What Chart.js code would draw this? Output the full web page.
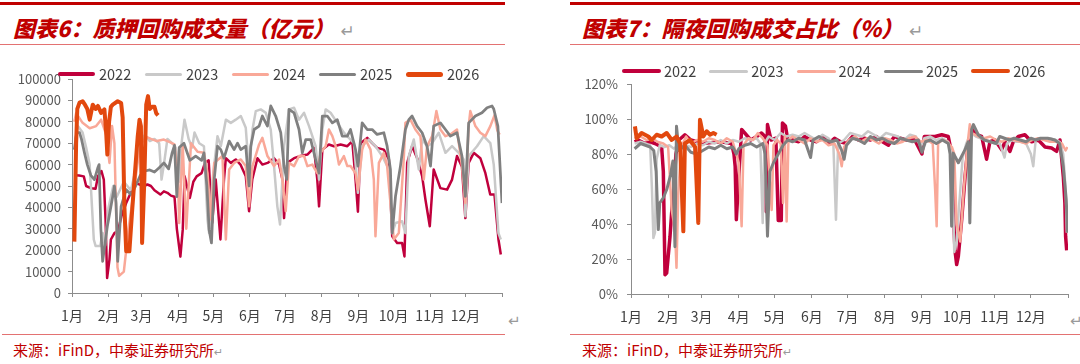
<!DOCTYPE html>
<html>
<head>
<meta charset="utf-8">
<script src="https://cdn.jsdelivr.net/npm/chart.js"></script>
<style>
	body{margin:0;width:1080px;height:364px;background:#fff;position:relative;overflow:hidden;font-family:"Noto Sans CJK SC",sans-serif;}
	.bar{position:absolute;top:2px;height:3px;background:#C00000;}
	.thin{position:absolute;height:1px;background:#E37272;}
	.title{position:absolute;top:16px;font-size:22px;line-height:22px;font-weight:900;font-style:italic;color:#C00000;white-space:nowrap;}
	.ret{color:#9a9a9a;font-style:normal;font-weight:normal;font-family:"DejaVu Sans",sans-serif;}
	.title .ret{font-size:17px;margin-left:6px;}
	.src{position:absolute;top:342px;font-size:15px;line-height:15px;color:#C00000;white-space:nowrap;}
	.src .ret{font-size:11px;}
	.corner{position:absolute;top:312px;font-size:15px;}
	canvas{position:absolute;top:0;}
	.lg{position:absolute;height:18px;}
	.lg i{position:absolute;border-radius:3px;}
	.lg span{position:absolute;top:0;font-size:14.5px;line-height:18px;color:#404040;}
</style>
</head>
<body>
	<div class="bar" style="left:0;width:505px"></div>
	<div class="bar" style="left:570px;width:510px"></div>
	<div class="title" style="left:13px">图表6：质押回购成交量（亿元）<span class="ret">↵</span></div>
	<div class="title" style="left:582px">图表7：隔夜回购成交占比（%）<span class="ret">↵</span></div>
	<div class="thin" style="left:0;width:505px;top:44px"></div>
	<div class="thin" style="left:570px;width:510px;top:44px"></div>
	<div class="thin" style="left:2px;width:503px;top:334px"></div>
	<div class="thin" style="left:570px;width:510px;top:334px"></div>
	<div class="src" style="left:13px">来源：iFinD，中泰证券研究所<span class="ret">↵</span></div>
	<div class="src" style="left:582px">来源：iFinD，中泰证券研究所<span class="ret">↵</span></div>
	<div class="ret corner" style="left:508px">↵</div>
	<div class="ret corner" style="left:1070px">↵</div>

	<canvas id="volChart" width="512" height="333" style="left:0"></canvas>
	<canvas id="onChart" width="520" height="334" style="left:560px"></canvas>
	<div id="volLegend"></div>
	<div id="onLegend"></div>

<script>
const seriesNames = ['2022', '2023', '2024', '2025', '2026'];
const seriesColors = ['#C0003C', '#C9C9C9', '#F9A898', '#808080', '#E2480E'];
const monthStarts = [0, 31, 59, 90, 120, 151, 181, 212, 243, 273, 304, 334];
const monthLabels = ['1月', '2月', '3月', '4月', '5月', '6月', '7月', '8月', '9月', '10月', '11月', '12月'];

// 质押回购成交量（亿元）  [年内第几天, 数值]
const vol2022 = [[3,55000],[6,54900],[10,54500],[12,50000],[16,49000],[20,48700],[22,54600],[25,57000],[27,53000],[28.5,34000],[29.8,7000],[31.8,15600],[33,25000],[36,28000],[39,29000],[42,36000],[46,42000],[50,47000],[54,51500],[58,50500],[61,50000],[64,50700],[67,50000],[70,48000],[75,46000],[78,47500],[81,46800],[84,45500],[87,45000],[89,30000],[92,17000],[94,29600],[95.6,54500],[100,44400],[103,52000],[105.8,54500],[110,56000],[113,61000],[116,62000],[119,32700],[122,53000],[126,25000],[129,53000],[130.6,63000],[134.8,60800],[139,62400],[143,60000],[147.5,54600],[150.3,38200],[153,53000],[157.4,63000],[161.6,60000],[166,60800],[171.5,63000],[175.8,60000],[178.6,53000],[180,35000],[182.8,60800],[188.5,63000],[194,64000],[199.8,64700],[205.4,67800],[208.2,53000],[209.7,40500],[212.5,67000],[218,69400],[222.4,68600],[228,69400],[233.7,68600],[237.9,71000],[240.7,53000],[242.7,38000],[245,70000],[250.6,72500],[254.8,70000],[259,67800],[264.7,67000],[269,62400],[271.8,26500],[276,23400],[280.2,23400],[282.2,17100],[284.5,60800],[288.7,68600],[293,63000],[297.2,54600],[300,43700],[303.7,31200],[307,57700],[312.7,49000],[318.4,48300],[322.6,53000],[326.8,64000],[331,59000],[333.9,35000],[336.7,60800],[341,65500],[346.6,63000],[350.9,56000],[355,46000],[358.6,46000],[362,25000],[364,18000]];
const vol2023 = [[3,72000],[5,78000],[9,75000],[12,68000],[15,60000],[17,40000],[18.5,25000],[20,22000],[24,22000],[26,28000],[28,22000],[31,40000],[35,50000],[38,45000],[44,52000],[50,48000],[55,60000],[58,70000],[62,74000],[66,71000],[70,72000],[74,70000],[76,53000],[78,60000],[81,72000],[85,70000],[88,68000],[91,52000],[93,70000],[95.5,81000],[99,72000],[102,68000],[104,75000],[108,70000],[112,68600],[115,34300],[116.4,28000],[119.3,53000],[123.5,73300],[126.3,68600],[130.6,81000],[134.8,79500],[139,81000],[143.3,82700],[147.5,77200],[150.3,56000],[153.2,76400],[156,85000],[160.2,85800],[164.5,84200],[168.7,76400],[171.5,59300],[174.3,40500],[176.6,32000],[180,68600],[184.2,85800],[188.5,86600],[192.7,81000],[197,84200],[201.2,78000],[204,73300],[206.8,68600],[209.7,53000],[212.5,76400],[215.3,85800],[219.5,84200],[225.2,79500],[230.8,74900],[233.6,73300],[239.3,70000],[242.7,46800],[246.3,68600],[252,71700],[257.6,68600],[263.3,64000],[269,57700],[271.8,28000],[274.6,32700],[280.2,33500],[283,28000],[285.9,64000],[290.1,71700],[294.4,57700],[297.2,71700],[301.4,68600],[305.7,70000],[311.3,74900],[317,65500],[322.6,68600],[328.3,65500],[332.5,62400],[333.9,35900],[336.7,64000],[343.8,68600],[349.5,73300],[355.1,70000],[358,60000],[362,28000],[364,25000]];
const vol2024 = [[2,80000],[3.5,84000],[9,79500],[15,77000],[20.5,78000],[24.7,81000],[29,74000],[31.8,60800],[34,78000],[36,70000],[38.6,12000],[40,8000],[44,10000],[48,30000],[53,50000],[56,62000],[59,70000],[63,73000],[67,72000],[72,71000],[78,71700],[83,70500],[87,69400],[90,53000],[91,32700],[94,68600],[97,30000],[101,70000],[106.6,66000],[112,65500],[115,56000],[118,34300],[120.7,60800],[127.7,64000],[130.6,25000],[133.4,57700],[137.6,60800],[143.3,62400],[147.5,59300],[150.3,40500],[153.2,59300],[158.8,69400],[161.6,72500],[165.9,64000],[171.5,59300],[175.8,62400],[178.6,53000],[181.4,38200],[184.2,60800],[188.5,59300],[192.7,64000],[197,64000],[199.8,59300],[204,60000],[208.2,56000],[211,65500],[215.3,68600],[218.1,76400],[221,73300],[223.8,68600],[226.6,60000],[230.8,64000],[233.7,59300],[236.4,59300],[240.7,56000],[242.7,48300],[246.3,67000],[249.2,71700],[253.4,67000],[256.2,53000],[257.6,26500],[260.5,60800],[264.7,65500],[267.5,59300],[270.3,42100],[273.2,25000],[277.4,28000],[281.6,62400],[283,79500],[287.3,81000],[291.5,76400],[295.8,73300],[298.6,53000],[301.4,68600],[305.7,73300],[309.3,85000],[312.7,76400],[317,73300],[321.2,74100],[326.8,76400],[331,59300],[333.9,42100],[336.7,78000],[338.1,85000],[342.4,78000],[346.6,74900],[350.9,73300],[355.1,78000],[358.6,83000],[361,76000],[363,74000]];
const vol2025 = [[2,67000],[4,75000],[6.4,74900],[8,72000],[10.6,65500],[13,60000],[16,55000],[19,53000],[21.9,58500],[23,60000],[24.5,30000],[26,14800],[30,31200],[34.6,45200],[36,50000],[37.4,42100],[38.8,14800],[41.7,40500],[46,48300],[50,46000],[54,50000],[58,55000],[62,57000],[66,57500],[70,56500],[74,58500],[78,60800],[82,58000],[85,65500],[87,69000],[89,45000],[91,68000],[95,70000],[100,62000],[105,64000],[110,62000],[112,65500],[114.5,50000],[116.4,29600],[118.4,23400],[120.7,53000],[123.5,68600],[126.3,67000],[129,63000],[133.4,71000],[137.6,67000],[140.5,70000],[143.3,67000],[147.5,68600],[150.3,50000],[151.7,68600],[154.6,76400],[158.8,78000],[161.6,82700],[165.9,78000],[168.7,87400],[172.9,82700],[177.2,74900],[180,59300],[182.3,53000],[184.2,85800],[188.5,84200],[192.7,76400],[195.5,65500],[198.4,71700],[202.6,71700],[206.8,62400],[209.7,56000],[212.5,82700],[216.7,82700],[221,79500],[225.2,81000],[229.4,73300],[233.7,73300],[236.4,76400],[240.7,67000],[242.7,59300],[246.3,79500],[250.6,76400],[254.8,76400],[259,74100],[264.7,74900],[267.5,68600],[270.3,57700],[271.8,28000],[274.6,45200],[278.8,59300],[283,76400],[285.9,81000],[288.7,82700],[292.9,78000],[297.2,74900],[301.4,68600],[304.3,59300],[307,78000],[312.7,79500],[317,76400],[321.2,73300],[326.8,74900],[331,64000],[333.9,45200],[336.7,79500],[342.4,82700],[348,84200],[352.3,86600],[356.5,87400],[358,86000],[361.5,78000],[365,42000]];
const vol2026 = [[2,24000],[3.5,70000],[4.5,86000],[6.4,89000],[9,89600],[11,88000],[13,86000],[15,81000],[17.6,88000],[20,86000],[22,87400],[24.7,84200],[27.5,85800],[29,75000],[30,64700],[31.5,80000],[33,87000],[34.6,88000],[38.8,89600],[41.7,88800],[43,82000],[44.5,40000],[46,19500],[48.7,19500],[51,38000],[53,53000],[55.8,73300],[57.3,81000],[58.5,78000],[59.5,23400],[61.4,53000],[63,88000],[64.5,92000],[66,86000],[68,87000],[70,87000],[71.5,84000],[73,83000]];

// 隔夜回购成交占比（%）
const on2022 = [[3,87],[6,88],[11.7,86],[16,87],[20,86],[25.6,84],[27,70],[28.4,11],[29.8,12],[32.6,33],[34.5,52],[36,62],[37.5,80],[40,88],[45,91],[50,88],[55,87],[60,86],[67,86.5],[75,87],[84,86],[86,80],[87,73],[88,42.5],[90,67],[92.4,94],[95,92],[100,88],[105,90],[109,92],[112,90],[113,47],[114,96.8],[117,88],[121,89],[123,42],[125.5,42],[126.5,97.7],[129,96],[131,88],[135,88],[140,87],[145,90],[150,88],[155,87],[160,90],[165,86],[170,89],[175,87],[180,86],[185,90],[190,88],[195,89],[200,88],[205,90],[210,87],[215,85],[220,90],[225,89],[230,88],[237,88],[243,80],[245,90],[254,90],[259.5,91],[265,90],[267.8,80.5],[269.2,48],[270.6,25],[272,16.8],[273.4,21.5],[276.2,42.5],[279,67],[281.7,86],[284.5,94],[288.7,91],[292.9,90],[297,77],[299.8,87],[304,88],[309.6,82.5],[312.4,87],[316.5,81.5],[319.3,87],[323.5,90],[329,91],[334.6,87],[340.2,88],[345.8,84],[351.3,83.4],[355.5,81.5],[358.3,88],[361.1,67],[362.4,52],[363,33],[363.9,25]];
const on2023 = [[3,86],[8,87],[12,86],[16,85],[17.5,60],[18.7,32],[20,35],[21.4,77],[24,85],[28,84],[32,85],[36,83],[40,86],[45,85],[50,84],[55,86],[60,85],[65,87],[70,86],[75,88],[80,86],[85,88],[90,87],[95,89],[100,88],[105,89],[108,86],[110,40.6],[111.5,86],[115,90],[120,88],[125,92],[130,90],[135,91],[140,90],[145,92],[150,90],[155,88],[160,91],[165,89],[169,86],[171.2,42.5],[173,86],[178,88],[183,92],[188,91],[193,90],[198,93],[203,91],[208,89],[213,92],[218,91],[223,90],[228,88],[233,91],[238,90],[242,84],[245,89],[250,90],[255,88],[260,89],[265,87],[268,80],[270,24],[272,30],[274,50],[277,78],[280,86],[284,92],[288,90],[292,89],[296,88],[300,87],[304,86],[308,86],[312,78],[314,86],[318,88],[322,87],[326,87],[330,86],[334,80],[336,73],[338,88],[342,89],[346,88],[350,89],[355,88],[358,87],[361,80],[363,60],[364,35]];
const on2024 = [[3,89],[8,90],[13,88],[18,89],[22,87],[27,86],[31,84],[34,48],[36.7,37],[38,15],[39.5,58],[42,84],[46,90],[50,86],[55,88],[60,87],[65,89],[70,88],[75,86],[80,89],[85,87],[88,80],[90,75],[92.4,38.7],[94,85],[98,89],[102,88],[106,92],[110,89],[114,85],[117.5,48],[119,85],[122,88],[125,86],[127,52],[128.5,90],[130,41.5],[131.5,88],[135,90],[140,88],[145,86],[150,89],[155,87],[160,88],[165,85],[170,86],[174,80],[176,73],[178,84],[182,88],[187,90],[192,87],[197,89],[202,88],[207,86],[212,89],[217,88],[222,86],[227,87],[232,89],[237,90],[242,87],[247,88],[252,86],[254,60],[255.3,38.7],[256.5,86],[260,88],[264,87],[268,84],[270,80],[272,40],[275,30],[278,60],[281,85],[283,97],[285,92],[290,90],[295,89],[300,90],[305,88],[310,87],[315,89],[320,88],[325,87],[330,86],[335,88],[340,89],[345,88],[350,87],[355,87],[360,86],[363,82],[364.5,84]];
const on2025 = [[3,83],[8,86],[12,85],[16,84],[19,82],[21,70],[22.8,36.8],[24,52],[27,55],[30,60],[33,68],[35,76],[36.7,27],[38,95.8],[40,82],[45,85],[50,81],[55,80],[60,82],[65,84],[70,83],[75,85],[80,83],[85,84],[88,80],[90,83],[95,85],[100,86],[105,84],[110,86],[112,80],[114,33],[116,70],[119,75],[123,80],[127,85],[131,88],[135,87],[140,89],[145,88],[148,82],[150,78],[152,88],[157,90],[162,88],[167,87],[172,88],[176,82],[178,77],[180,85],[185,89],[190,88],[195,86],[200,90],[205,88],[210,89],[215,87],[220,86],[225,89],[230,88],[235,87],[240,88],[243,81],[246,87],[250,88],[255,86],[260,88],[265,86],[266.5,80],[267.8,38.7],[269.2,80.5],[273.4,75],[279,82.5],[281.7,87],[283,40.6],[284.5,94],[286,96.8],[290,91],[295,88],[300,87],[305,86],[308,90],[312,89],[316,88],[320,89],[325,88],[330,87],[334,89],[338,88],[342,89],[348,89],[354,88],[358,86],[361,73],[363.5,54],[364.7,35]];
const on2026 = [[3.3,95.8],[4.7,89],[8.9,92],[14.5,90],[17.3,88],[21.4,91],[25.6,90],[29.8,92],[34,88],[38,90],[41,86],[43.7,35.8],[45,86],[49.3,88],[53.5,84],[56.2,40.6],[57.6,99.6],[60.4,90],[63.2,93],[66,91],[68.8,92],[71.5,91]];

Chart.defaults.font.family = '"Noto Sans CJK SC", sans-serif';

const axisColor = '#8c8c8c';

let setChartConfig = (seriesList, lineWidths, yMax, yStep, yFormat, pad, yWidth, yPad) => {
	return {
		type: 'line',
		data: {
			datasets: seriesList.map((data, i) => ({
				label: seriesNames[i],
				data: data,
				borderColor: seriesColors[i],
				borderWidth: lineWidths[i],
				pointRadius: 0,
				tension: 0,
				fill: false,
				borderJoinStyle: 'round',
				order: seriesNames.length - i // 2026 위에 그리기
			}))
		},
		options: {
			responsive: false,
			animation: false,
			layout: { padding: pad },
			plugins: {
				legend: { display: false },
				tooltip: { enabled: false }
			},
			scales: {
				x: {
					type: 'linear',
					min: 0,
					max: 365,
					afterBuildTicks: s => { s.ticks = monthStarts.concat([365]).map(v => ({ value: v })); },
					afterFit: s => { s.height = 40; },
					ticks: {
						autoSkip: false,
						maxRotation: 0,
						padding: 10,
						color: '#404040',
						font: { size: 14 },
						callback: v => {
							const i = monthStarts.indexOf(v);
							return i >= 0 ? monthLabels[i] : '';
						}
					},
					grid: { drawOnChartArea: false, drawTicks: true, tickLength: 4, color: axisColor },
					border: { color: axisColor, width: 1 }
				},
				y: {
					min: 0,
					max: yMax,
					afterFit: s => { s.width = yWidth; },
					ticks: {
						stepSize: yStep,
						padding: yPad,
						color: '#595959',
						font: { size: 13 },
						callback: yFormat
					},
					grid: { drawOnChartArea: false, drawTicks: true, tickLength: 4, color: axisColor },
					border: { color: axisColor, width: 1 }
				}
			}
		}
	};
};

let drawLegend = (el, x0, y, pitch, lineLen, gap, widths) => {
	seriesNames.forEach((name, i) => {
		const item = document.createElement('div');
		item.className = 'lg';
		item.style.left = (x0 + i * pitch) + 'px';
		item.style.top = (y - 9) + 'px';
		item.innerHTML = '<i style="left:0;top:' + (9 - widths[i] / 2) + 'px;width:' + lineLen + 'px;height:' + widths[i] + 'px;background:' + seriesColors[i] + '"></i>' +
			'<span style="left:' + (lineLen + gap) + 'px">' + name + '</span>';
		el.appendChild(item);
	});
};

new Chart(document.getElementById('volChart'),
	setChartConfig([vol2022, vol2023, vol2024, vol2025, vol2026], [2.5, 2.5, 2.5, 2.75, 4],
		100000, 10000, v => String(v), { top: 79, right: 9, left: 0, bottom: 0 }, 72, 7));

new Chart(document.getElementById('onChart'),
	setChartConfig([on2022, on2023, on2024, on2025, on2026], [3.5, 2.5, 2.5, 3, 4],
		120, 20, v => v + '%', { top: 84, right: 12, left: 0, bottom: 0 }, 71, 9));

drawLegend(document.getElementById('volLegend'), 58, 74, 87, 37, 4, [3.5, 3, 3, 3, 5]);
drawLegend(document.getElementById('onLegend'), 622, 71, 87.3, 39, 3, [4, 3, 3, 3, 4.5]);
</script>
</body>
</html>
